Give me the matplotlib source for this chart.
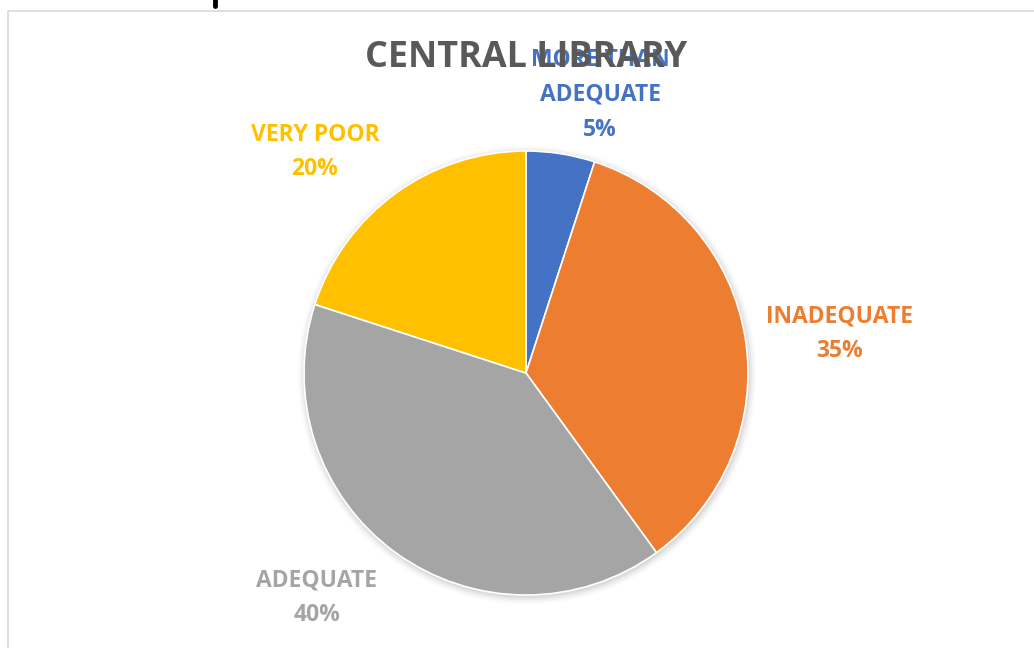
import matplotlib.pyplot as plt
from matplotlib.patches import Circle

categories = ["MORE THAN\nADEQUATE", "INADEQUATE", "ADEQUATE", "VERY POOR"]
shares = [5, 35, 40, 20]
colors = ["#4472C4", "#ED7D31", "#A5A5A5", "#FFC000"]
title = "CENTRAL LIBRARY"

W, H = 1034, 648
fig = plt.figure(figsize=(W / 100, H / 100), dpi=100)
ax = fig.add_axes([0, 0, 1, 1])
ax.set_xlim(0, W)
ax.set_ylim(0, H)
ax.set_aspect("equal")
ax.axis("off")

# chart frame (light grey, cut at the right/bottom)
ax.plot([8, 8, W + 5], [-5, H - 11, H - 11], color="#D9D9D9", lw=1.2)
# cropped descender of text above the frame
ax.plot([215, 215], [H, H - 6], color="black", lw=3.5, solid_capstyle="round")

cx, cy, r = 526, H - 373, 222

# soft shadow
for i, a in enumerate([0.05, 0.04, 0.03, 0.02]):
    ax.add_patch(Circle((cx + 1, cy - 2), r + 1 + i * 2, color="black", alpha=a, lw=0))

wedges, _ = ax.pie(shares, colors=colors, startangle=90, counterclock=False,
                   center=(cx, cy), radius=r, frame=True,
                   wedgeprops=dict(edgecolor="white", linewidth=1.2))
ax.set_xlim(0, W)
ax.set_ylim(0, H)
ax.axis("off")

font = "Open Sans"
label_pos = [(600, 95), (840, 334), (317, 598), (315, 152)]
for cat, val, col, (lx, ly) in zip(categories, shares, colors, label_pos):
    ax.text(lx, H - ly, f"{cat}\n{val}%", color=col, fontsize=16.5,
            fontweight="bold", family=font, ha="center", va="center",
            linespacing=1.6)

ax.text(526, H - 58, title, color="#595959", fontsize=25.8, fontweight="bold",
        family=font, ha="center", va="center")

fig.savefig("out.png", dpi=100, facecolor="white")
